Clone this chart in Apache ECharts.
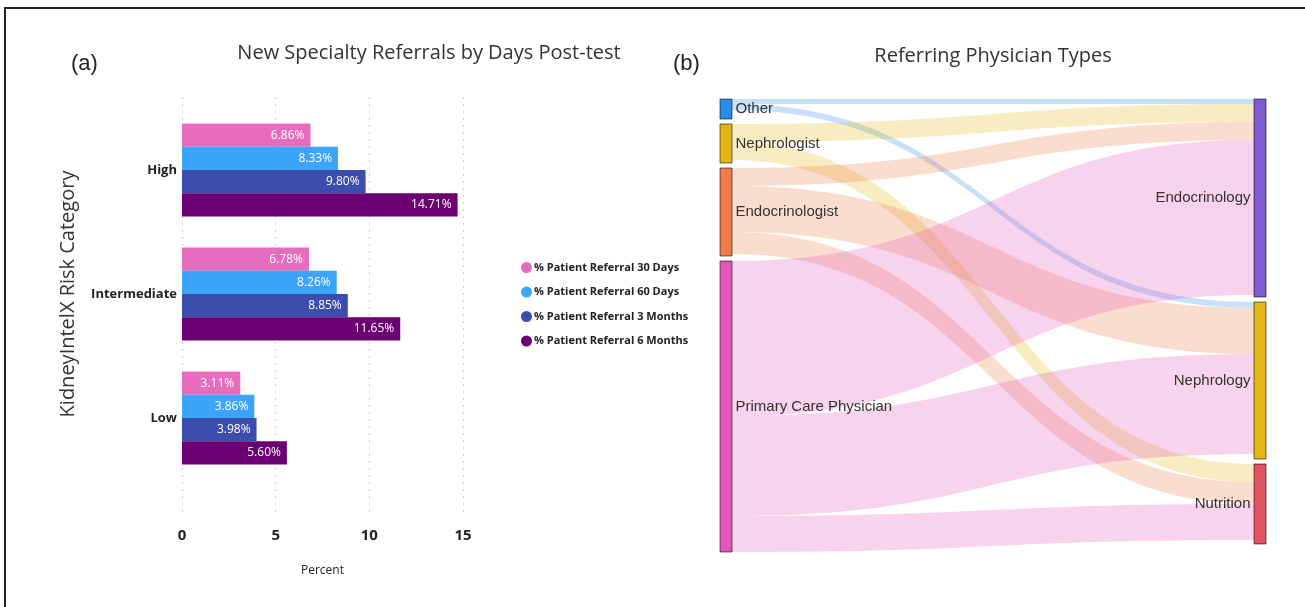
<!DOCTYPE html>
<html>
<head>
<meta charset="utf-8">
<title>Referrals</title>
<script src="https://cdn.jsdelivr.net/npm/echarts@6/dist/echarts.min.js"></script>
<style>
  html, body { margin: 0; padding: 0; background: #fff; }
  #chart { width: 1305px; height: 607px; }
</style>
</head>
<body>
<div id="chart"></div>
<script>
// (a) bar chart data
const riskCategories = ['High', 'Intermediate', 'Low']
const seriesNames = [
  '% Patient Referral 30 Days',
  '% Patient Referral 60 Days',
  '% Patient Referral 3 Months',
  '% Patient Referral 6 Months',
]
const referral30d = [6.86, 6.78, 3.11]
const referral60d = [8.33, 8.26, 3.86]
const referral3m = [9.80, 8.85, 3.98]
const referral6m = [14.71, 11.65, 5.60]
const barColors = ['#e66cbd', '#3da5f9', '#3c4dae', '#6a0072']

// (b) sankey data (values read as band thickness)
const sourceNodes = ['Other', 'Nephrologist', 'Endocrinologist', 'Primary Care Physician']
const sourceSizes = [20, 39, 88, 291]
const sourceColors = ['#2a8ce8', '#e0b515', '#ee7d4b', '#e356b8']
const targetNodes = ['Endocrinology', 'Nephrology', 'Nutrition']
const targetSizes = [198, 157, 80]
const targetColors = ['#805ad0', '#e2b616', '#e05561']
const flowLinks = [
  ['Other', 'Endocrinology', 5],
  ['Other', 'Nephrology', 6],
  ['Nephrologist', 'Endocrinology', 18],
  ['Nephrologist', 'Nutrition', 18],
  ['Endocrinologist', 'Endocrinology', 18],
  ['Endocrinologist', 'Nephrology', 46],
  ['Endocrinologist', 'Nutrition', 22],
  ['Primary Care Physician', 'Endocrinology', 155],
  ['Primary Care Physician', 'Nephrology', 100],
  ['Primary Care Physician', 'Nutrition', 36],
]

const chart = echarts.init(document.getElementById('chart'))

const barData = [referral30d, referral60d, referral3m, referral6m]

const sankeyNodes = []
sourceNodes.forEach((n, i) => {
  sankeyNodes.push({
    name: n,
    value: sourceSizes[i],
    itemStyle: { color: sourceColors[i] },
    label: { position: 'right' },
  })
})
targetNodes.forEach((n, i) => {
  sankeyNodes.push({
    name: n,
    value: targetSizes[i],
    itemStyle: { color: targetColors[i] },
    label: { position: 'left' },
  })
})

const option = {
  animation: false,
  backgroundColor: '#fff',
  textStyle: { fontFamily: 'Open Sans' },
  graphic: [
    {
      type: 'rect',
      shape: { x: 5, y: 8, width: 1330, height: 640 },
      style: { fill: 'none', stroke: '#222', lineWidth: 2 },
      silent: true,
    },
  ],
  title: [
    {
      text: '(a)',
      left: 66,
      top: 48,
      textStyle: { fontFamily: 'Liberation Sans', fontSize: 22, fontWeight: 'normal', color: '#222' },
    },
    {
      text: 'New Specialty Referrals by Days Post-test',
      left: 424,
      top: 38,
      textAlign: 'center',
      textStyle: { fontFamily: 'Open Sans', fontSize: 20, fontWeight: 'normal', color: '#333' },
    },
    {
      text: '(b)',
      left: 668,
      top: 48,
      textAlign: 'left',
      textStyle: { fontFamily: 'Liberation Sans', fontSize: 22, fontWeight: 'normal', color: '#222' },
    },
    {
      text: 'Referring Physician Types',
      left: 988,
      top: 41,
      textAlign: 'center',
      textStyle: { fontFamily: 'Open Sans', fontSize: 20, fontWeight: 'normal', color: '#333' },
    },
  ],
  legend: {
    data: seriesNames,
    orient: 'vertical',
    left: 516,
    top: 257,
    itemGap: 13.5,
    icon: 'circle',
    itemWidth: 11,
    itemHeight: 11,
    textStyle: { fontFamily: 'Open Sans', fontWeight: 'bold', fontSize: 11, color: '#222', padding: [0, 0, 0, -3] },
  },
  grid: [
    { left: 182, top: 108, width: 281, height: 372 },
    { left: 182, top: 97, width: 281, height: 418 },
  ],
  xAxis: [
    { gridIndex: 0, type: 'value', min: 0, max: 15, interval: 5, show: false },
    {
      gridIndex: 1,
      type: 'value',
      min: 0,
      max: 15,
      interval: 5,
      axisLine: { show: false },
      axisTick: { show: false },
      axisLabel: { margin: 13, fontSize: 15, fontWeight: 'bold', color: '#222', fontFamily: 'Open Sans' },
      splitLine: { show: true, lineStyle: { color: '#cfcfcf', type: [2, 5], width: 1 } },
      name: 'Percent',
      nameLocation: 'middle',
      nameGap: 50,
      nameTextStyle: { fontSize: 12, color: '#222', fontFamily: 'Open Sans' },
    },
  ],
  yAxis: [
    {
      gridIndex: 0,
      type: 'category',
      data: riskCategories,
      inverse: true,
      axisLine: { show: false },
      axisTick: { show: false },
      axisLabel: { margin: 5, fontSize: 13, fontWeight: 'bold', color: '#222', fontFamily: 'Open Sans' },
      name: 'KidneyIntelX Risk Category',
      nameLocation: 'middle',
      nameRotate: 90,
      nameGap: 104,
      nameTextStyle: { fontSize: 20, color: '#333', fontFamily: 'Open Sans' },
    },
    { gridIndex: 1, type: 'value', show: false },
  ],
  series: [
    ...barData.map((vals, i) => ({
      name: seriesNames[i],
      type: 'bar',
      xAxisIndex: 0,
      yAxisIndex: 0,
      data: vals,
      barGap: '0%',
      barCategoryGap: '25%',
      itemStyle: { color: barColors[i] },
      label: {
        show: true,
        position: 'insideRight',
        distance: 6,
        color: '#fff',
        fontSize: 12,
        fontFamily: 'Open Sans',
        formatter: p => p.value.toFixed(2) + '%',
      },
    })),
    {
      type: 'sankey',
      left: 720,
      top: 99,
      right: 39,
      bottom: 55,
      nodeWidth: 12,
      nodeGap: 5,
      layoutIterations: 0,
      draggable: false,
      emphasis: { disabled: true },
      data: sankeyNodes,
      links: flowLinks.map(l => ({ source: l[0], target: l[1], value: l[2] })),
      itemStyle: { borderColor: 'rgba(0,0,0,0.55)', borderWidth: 1 },
      lineStyle: { color: 'source', opacity: 0.26, curveness: 0.5 },
      label: {
        fontFamily: 'Liberation Sans',
        fontSize: 15,
        color: '#333',
        distance: 3,
      },
    },
  ],
}

chart.setOption(option)
</script>
</body>
</html>
